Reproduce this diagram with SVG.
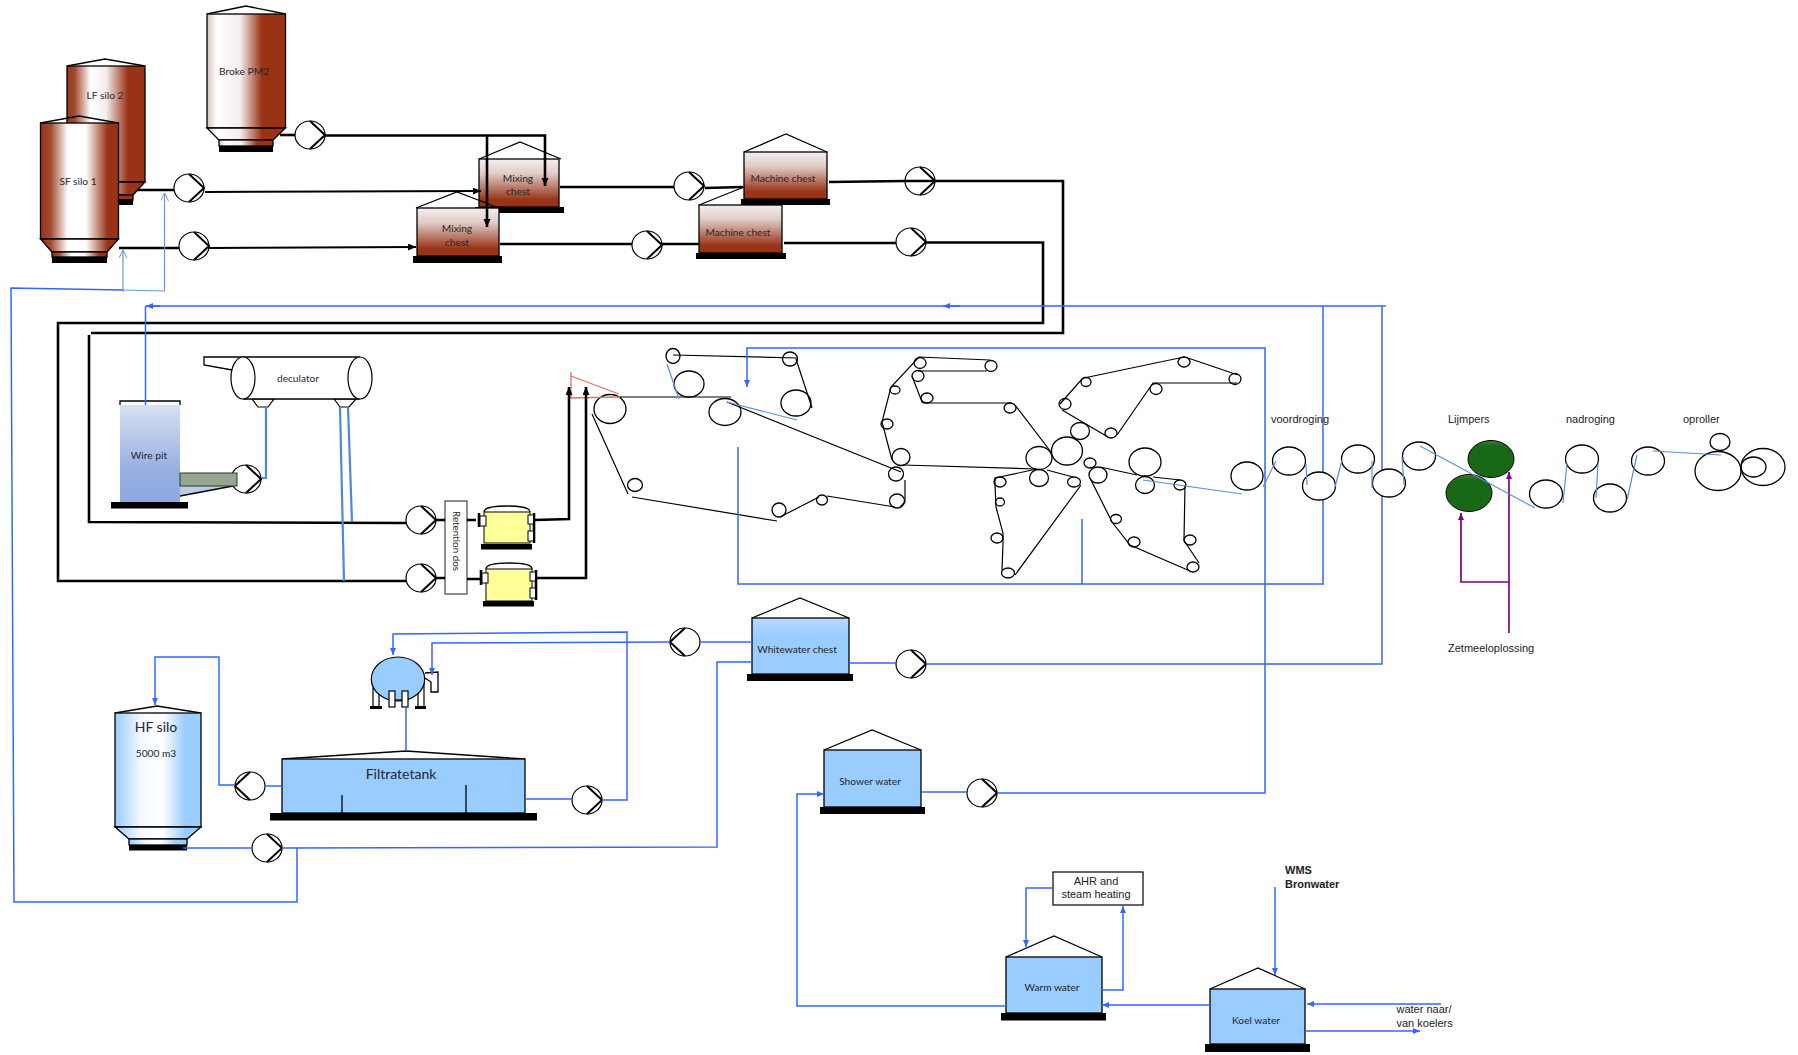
<svg xmlns="http://www.w3.org/2000/svg" width="1798" height="1055" viewBox="0 0 1798 1055">
<style>
text{font-family:"Lato","Open Sans","Liberation Sans",sans-serif;font-size:10.2px;fill:#26262e;text-anchor:middle}
.a{font-family:"Liberation Sans",Arial,sans-serif;font-size:11px;fill:#222}
.s{text-anchor:start}
.o{fill:none;stroke:#000;stroke-width:1.3;stroke-linejoin:miter}
.ln{stroke:#000;stroke-width:1.3}
.base{fill:#000;stroke:none}
.bk{fill:none;stroke:#000;stroke-width:2.6}
.bl{fill:none;stroke:#3366ff;stroke-width:1.5}
.lb{fill:none;stroke:#6a96dc;stroke-width:1.2}
.pp{fill:none;stroke:#4a8ade;stroke-width:2.2}
.pu{fill:none;stroke:#800080;stroke-width:1.7}
.red{fill:none;stroke:#d9736f;stroke-width:1.3}
.belt{fill:none;stroke:#000;stroke-width:1.2}
.web{fill:none;stroke:#5b8ed6;stroke-width:1.2}
.roll{fill:none;stroke:#000;stroke-width:1.3}
.rollw{fill:#fff;stroke:#000;stroke-width:1.3}
.green{fill:url(#gGreen);stroke:#000;stroke-width:1}
.y{fill:#ffff99;stroke:#000;stroke-width:1}
.nz{fill:#fff;stroke:#000;stroke-width:1}
.w{fill:#fff;stroke:#000;stroke-width:1.2}
</style>
<defs>
<linearGradient id="gLF"><stop offset="0" stop-color="#993316"/><stop offset=".1" stop-color="#a04a30"/><stop offset=".3" stop-color="#fff"/><stop offset=".5" stop-color="#f4eeee"/><stop offset=".78" stop-color="#993316"/><stop offset="1" stop-color="#993316"/></linearGradient>
<linearGradient id="gBroke"><stop offset="0" stop-color="#d8c0bc"/><stop offset=".12" stop-color="#fff"/><stop offset=".42" stop-color="#f6eeee"/><stop offset=".7" stop-color="#993316"/><stop offset="1" stop-color="#993316"/></linearGradient>
<linearGradient id="gSF"><stop offset="0" stop-color="#993316"/><stop offset=".13" stop-color="#a04a30"/><stop offset=".35" stop-color="#fff"/><stop offset=".58" stop-color="#fff"/><stop offset=".86" stop-color="#993316"/><stop offset="1" stop-color="#993316"/></linearGradient>
<linearGradient id="gChest" x2="0" y2="1"><stop offset="0" stop-color="#f4eeee"/><stop offset=".3" stop-color="#e0cdc8"/><stop offset=".85" stop-color="#993316"/><stop offset="1" stop-color="#993316"/></linearGradient>
<linearGradient id="gHF"><stop offset="0" stop-color="#99ccff"/><stop offset=".3" stop-color="#f4f9ff"/><stop offset=".55" stop-color="#fff"/><stop offset=".82" stop-color="#99ccff"/><stop offset="1" stop-color="#99ccff"/></linearGradient>
<linearGradient id="gPit" x2="0" y2="1"><stop offset="0" stop-color="#d8e0f2"/><stop offset=".7" stop-color="#94aee0"/><stop offset="1" stop-color="#8eaadf"/></linearGradient>
<linearGradient id="gWW" x2="0" y2="1"><stop offset="0" stop-color="#b8d9ff"/><stop offset=".35" stop-color="#99ccff"/></linearGradient>
<linearGradient id="gGreen" x2="0" y2="1"><stop offset="0" stop-color="#3d7d38"/><stop offset=".15" stop-color="#186815"/><stop offset="1" stop-color="#186815"/></linearGradient>
<g id="pump"><ellipse rx="15" ry="14" fill="#fff" stroke="#000" stroke-width="1.2"/><polyline points="0,-14 15,0 0,14" fill="none" stroke="#000" stroke-width="2"/></g>
<g id="pumpL"><ellipse rx="15" ry="14" fill="#fff" stroke="#000" stroke-width="1.2"/><polyline points="0,-14 -15,0 0,14" fill="none" stroke="#000" stroke-width="2"/></g>
<marker id="aK" markerUnits="userSpaceOnUse" markerWidth="9" markerHeight="9" refX="8" refY="3.5" orient="auto"><path d="M0,0L8,3.5L0,7Z" fill="#000"/></marker>
<marker id="aB" markerUnits="userSpaceOnUse" markerWidth="9" markerHeight="9" refX="7" refY="3" orient="auto"><path d="M0,0L7,3L0,6Z" fill="#3366ff"/></marker>
<marker id="aP" markerUnits="userSpaceOnUse" markerWidth="9" markerHeight="9" refX="7" refY="3" orient="auto"><path d="M0,0L7,3L0,6Z" fill="#800080"/></marker>
<marker id="aO" markerUnits="userSpaceOnUse" markerWidth="10" markerHeight="10" refX="8" refY="4" orient="auto"><path d="M0,0L8,4L0,8" fill="none" stroke="#6a96dc" stroke-width="1"/></marker>
</defs>
<rect width="1798" height="1055" fill="#fff"/>

<g id="silo-lf2">
<polyline class="o" points="67,66 105,59 145,66"/>
<rect x="67" y="66" width="78" height="116" fill="url(#gLF)" class="ln"/>
<polygon points="67,182 145,182 133,195 80,195" fill="url(#gLF)" class="ln"/>
<rect x="80" y="195" width="53" height="5" fill="#993316" class="ln"/>
<rect class="base" x="80" y="199" width="53" height="6"/>
<text x="105" y="99">LF silo 2</text>
</g>
<g id="silo-sf1">
<polyline class="o" points="40.5,123 79,116 118.5,123"/>
<rect x="40.5" y="123" width="78" height="116" fill="url(#gSF)" class="ln"/>
<polygon points="40.5,239 118.5,239 107,252 52,252" fill="url(#gSF)" class="ln"/>
<rect x="52" y="252" width="55" height="5" fill="url(#gSF)" class="ln"/>
<rect class="base" x="52" y="257" width="55" height="6"/>
<text x="78" y="185">SF silo 1</text>
</g>
<g id="silo-broke">
<polyline class="o" points="207,14 246,6 285.5,14"/>
<rect x="207" y="14" width="78.5" height="114" fill="url(#gBroke)" class="ln"/>
<polygon points="207,128 285.5,128 273,140 219,140" fill="url(#gBroke)" class="ln"/>
<rect x="219" y="140" width="54" height="6" fill="url(#gBroke)" class="ln"/>
<rect class="base" x="219" y="146" width="54" height="6"/>
<text x="244" y="75">Broke PM2</text>
</g>
<g id="mixing-chest-1">
<polyline class="o" points="479,159 520,142 561,159"/>
<rect x="479" y="159" width="80" height="48" fill="url(#gChest)" class="ln"/>
<rect class="base" x="475" y="207" width="89" height="6"/>
<text x="518" y="182">Mixing</text><text x="518" y="195">chest</text>
</g>
<g id="mixing-chest-2">
<rect x="417" y="208" width="82" height="48" fill="url(#gChest)" class="ln"/>
<polyline class="o" points="416,208 457,192 499,208"/>
<rect class="base" x="413" y="256" width="89" height="7"/>
<text x="457" y="232">Mixing</text><text x="457" y="246">chest</text>
</g>
<g id="machine-chest-2">
<polyline class="o" points="699,205 744,187"/>
<rect x="699" y="205" width="83" height="48" fill="url(#gChest)" class="ln"/>
<rect class="base" x="696" y="253" width="90" height="6"/>
<text x="738" y="236">Machine chest</text>
</g>
<g id="machine-chest-1">
<polyline class="o" points="744,152 786,134 827,152"/>
<rect x="744" y="152" width="83" height="47" fill="url(#gChest)" class="ln"/>
<rect class="base" x="741" y="199" width="89" height="6"/>
<text x="783" y="182">Machine chest</text>
</g>

<g id="pump-broke"><use href="#pump" x="310" y="135"/></g>
<g id="pump-lf"><use href="#pump" x="189" y="188"/></g>
<g id="pump-sf"><use href="#pump" x="194" y="246"/></g>
<g id="pump-mix1"><use href="#pump" x="689" y="186"/></g>
<g id="pump-mix2"><use href="#pump" x="647" y="245"/></g>
<g id="pump-mach2"><use href="#pump" x="911" y="242"/></g>
<g id="pump-ret1"><use href="#pump" x="421" y="520"/></g>
<g id="pump-ret2"><use href="#pump" x="421" y="578"/></g>
<g id="pump-ww-in"><use href="#pumpL" x="685" y="642"/></g>
<g id="pump-ww-out"><use href="#pump" x="911" y="664"/></g>
<g id="pump-shower"><use href="#pump" x="982" y="793"/></g>
<g id="pump-hf-in"><use href="#pumpL" x="250" y="786"/></g>
<g id="pump-hf-out"><use href="#pump" x="267" y="848"/></g>
<g id="pump-filtrate"><use href="#pump" x="587" y="800"/></g>

<g id="wire-pit">
<polyline class="o" points="120,405 120,401 180,401 180,405"/>
<rect x="120" y="405" width="60" height="97" fill="url(#gPit)"/>
<rect class="base" x="111" y="502" width="77" height="6.5"/>
<text x="149" y="459">Wire pit</text>
</g>
<g id="pump-wire">
<use href="#pump" x="246" y="479"/>
<polygon points="180,486 233,486 180,496" fill="#b8cce4"/>
<line class="ln" x1="180" y1="496" x2="233" y2="486"/>
<rect x="180" y="473" width="57" height="13" fill="#93a88f" stroke="#333" stroke-width="1"/>
</g>
<g id="deculator">
<polygon class="w" points="252,399 258,407 268,407 274,399"/>
<polygon class="w" points="334,399 340,407 349,407 356,399"/>
<rect x="243" y="357" width="117" height="42" fill="#fff"/>
<polyline class="o" points="243,357 204,357 204,365 232,370"/>
<line class="ln" x1="243" y1="357" x2="360" y2="357"/>
<line class="ln" x1="243" y1="399" x2="360" y2="399"/>
<ellipse class="w" cx="243" cy="378" rx="12" ry="21"/>
<ellipse class="w" cx="360" cy="378" rx="12" ry="21"/>
<text x="298" y="382">deculator</text>
</g>
<g id="retention-dos">
<rect x="445" y="501" width="22" height="93" fill="#fff" stroke="#444" stroke-width="1.2"/>
<text transform="translate(453,541) rotate(90)" style="font-size:9.8px">Retention dos</text>
</g>
<g id="vessel-1">
<path d="M484,512Q484,506 507,506Q530,506 530,512" class="o"/>
<rect class="y" x="484" y="512" width="46" height="31"/>
<rect class="base" x="481" y="544" width="51" height="5.5"/>
<line class="bk" x1="479" y1="513" x2="479" y2="527"/><rect class="nz" x="480" y="516" width="6" height="10"/>
<line class="bk" x1="534" y1="513" x2="534" y2="543"/><rect class="nz" x="528" y="515" width="5.5" height="9"/><rect class="nz" x="528" y="531" width="5.5" height="10"/>
</g>
<g id="vessel-2">
<path d="M486,569Q486,563 509,563Q532,563 532,569" class="o"/>
<rect class="y" x="486" y="569" width="46" height="32"/>
<rect class="base" x="483" y="601" width="51" height="5.5"/>
<line class="bk" x1="481" y1="570" x2="481" y2="585"/><rect class="nz" x="482" y="573" width="6" height="10"/>
<line class="bk" x1="536" y1="570" x2="536" y2="600"/><rect class="nz" x="530" y="572" width="5.5" height="9"/><rect class="nz" x="530" y="588" width="5.5" height="10"/>
</g>

<g id="hf-silo">
<polyline class="o" points="115,713 157,706 201,713"/>
<rect x="115" y="713" width="86" height="114" fill="url(#gHF)" class="ln"/>
<polygon points="115,827 201,827 187,839 129,839" fill="url(#gHF)" class="ln"/>
<rect x="129" y="839" width="58" height="6" fill="url(#gHF)" class="ln"/>
<rect class="base" x="129" y="845" width="58" height="5.5"/>
<text x="156" y="732" style="font-size:14px">HF silo</text>
<text x="156" y="757">5000 m3</text>
</g>
<g id="filtrate-tank">
<polyline class="o" points="282,759 406,751 525,759"/>
<rect x="282" y="759" width="243" height="54" fill="#99ccff" class="ln"/>
<line class="ln" x1="342" y1="795" x2="342" y2="813"/><line class="ln" x1="466" y1="785" x2="466" y2="813"/>
<rect class="base" x="270" y="813" width="267" height="7.5"/>
<text x="401" y="779" style="font-size:14px">Filtratetank</text>
</g>
<g id="filter">
<rect class="w" x="373" y="688" width="6" height="19"/>
<rect class="base" x="370" y="706" width="12" height="3"/>
<rect class="w" x="418" y="677" width="6" height="30"/>
<rect class="base" x="415" y="706" width="11" height="3"/>
<polyline class="o" points="425,673 438,672 438,692 431,692 431,682 425,678"/>
<ellipse cx="398" cy="679" rx="26.7" ry="22" fill="#99ccff" stroke="#000" stroke-width="1.2"/>
<line class="ln" x1="395" y1="700" x2="402" y2="700"/>
<rect class="w" x="389" y="691" width="6" height="16"/>
<rect class="w" x="402" y="691" width="6" height="16"/>
</g>
<g id="whitewater-chest">
<polyline class="o" points="752,618 800,598 849,618"/>
<rect x="752" y="618" width="97" height="56" fill="url(#gWW)" class="ln"/>
<rect class="base" x="747" y="674" width="106" height="7"/>
<text x="797" y="653">Whitewater chest</text>
</g>
<g id="shower-water">
<polyline class="o" points="824,750 872,730 921,750"/>
<rect x="824" y="750" width="97" height="57" fill="#99ccff" class="ln"/>
<rect class="base" x="820" y="807" width="105" height="7"/>
<text x="870" y="785">Shower water</text>
</g>
<g id="warm-water">
<polyline class="o" points="1006,957 1054,936 1102,957"/>
<rect x="1006" y="957" width="96" height="56" fill="#99ccff" class="ln"/>
<rect class="base" x="1001" y="1013" width="105" height="7.5"/>
<text x="1052" y="991">Warm water</text>
</g>
<g id="koel-water">
<polyline class="o" points="1210,989 1258,968 1305,989"/>
<rect x="1210" y="989" width="95" height="55" fill="#99ccff" class="ln"/>
<rect class="base" x="1205" y="1044" width="105" height="8"/>
<text x="1256" y="1024">Koel water</text>
</g>
<g id="ahr">
<rect x="1053" y="872" width="90" height="33" fill="#fff" stroke="#000" stroke-width="1.2"/>
<text class="a" x="1096" y="885">AHR and</text><text class="a" x="1096" y="898">steam heating</text>
</g>

<g id="paper-machine">
<g class="rolls">
<ellipse class="roll" cx="673" cy="356" rx="7" ry="7.5"/><ellipse class="roll" cx="689" cy="384" rx="15" ry="13"/><ellipse class="roll" cx="610" cy="409" rx="16" ry="14.5"/><ellipse class="roll" cx="725" cy="412" rx="16" ry="13.5"/><ellipse class="roll" cx="790" cy="359" rx="7.5" ry="7"/><ellipse class="roll" cx="796" cy="403" rx="15" ry="13"/><ellipse class="roll" cx="635" cy="485" rx="7.5" ry="6.5"/><ellipse class="roll" cx="779" cy="510" rx="7" ry="7"/><ellipse class="roll" cx="822" cy="500" rx="5.5" ry="5"/><ellipse class="roll" cx="897" cy="501" rx="7.5" ry="7"/><ellipse class="roll" cx="896" cy="474" rx="7.5" ry="7"/><ellipse class="roll" cx="901" cy="457" rx="9" ry="8.5"/><ellipse class="roll" cx="887" cy="424" rx="6" ry="5"/><ellipse class="roll" cx="895" cy="390" rx="5" ry="4"/><ellipse class="roll" cx="918" cy="376" rx="6" ry="5.5"/><ellipse class="roll" cx="920" cy="363" rx="6" ry="5.5"/><ellipse class="roll" cx="927" cy="398" rx="6" ry="5"/><ellipse class="roll" cx="991" cy="366" rx="6" ry="5.5"/><ellipse class="roll" cx="1010" cy="408" rx="6" ry="5"/><ellipse class="roll" cx="1039" cy="458" rx="13" ry="11.5"/><ellipse class="roll" cx="1067" cy="451" rx="15.5" ry="14"/><ellipse class="roll" cx="1080" cy="431" rx="9.5" ry="8.5"/><ellipse class="roll" cx="1039" cy="478" rx="9.5" ry="8.5"/><ellipse class="roll" cx="1000" cy="482" rx="6" ry="5"/><ellipse class="roll" cx="1000" cy="502" rx="4.5" ry="4"/><ellipse class="roll" cx="997" cy="538" rx="6" ry="5"/><ellipse class="roll" cx="1008" cy="573" rx="6.5" ry="5"/><ellipse class="roll" cx="1074" cy="482" rx="6.5" ry="5"/><ellipse class="roll" cx="1086" cy="382" rx="5" ry="4.5"/><ellipse class="roll" cx="1065" cy="404" rx="6" ry="5.5"/><ellipse class="roll" cx="1111" cy="433" rx="6" ry="5"/><ellipse class="roll" cx="1156" cy="389" rx="6" ry="5.5"/><ellipse class="roll" cx="1184" cy="362" rx="6" ry="5"/><ellipse class="roll" cx="1235" cy="379" rx="6" ry="5.5"/><ellipse class="roll" cx="1090" cy="463" rx="6" ry="5"/><ellipse class="roll" cx="1098" cy="475" rx="9" ry="8"/><ellipse class="roll" cx="1145" cy="462" rx="16" ry="14"/><ellipse class="roll" cx="1145" cy="485" rx="9.5" ry="8.5"/><ellipse class="roll" cx="1180" cy="485" rx="6" ry="5"/><ellipse class="roll" cx="1190" cy="540" rx="6" ry="5"/><ellipse class="roll" cx="1116" cy="519" rx="5.5" ry="4.5"/><ellipse class="roll" cx="1134" cy="542" rx="6" ry="5"/><ellipse class="roll" cx="1193" cy="567" rx="6" ry="5"/><ellipse class="roll" cx="1247" cy="476" rx="16" ry="14"/>
<ellipse class="roll" cx="1289" cy="461" rx="16.5" ry="14"/><ellipse class="roll" cx="1358" cy="459" rx="16.5" ry="14"/><ellipse class="roll" cx="1419" cy="456" rx="16.5" ry="14"/><ellipse class="roll" cx="1546" cy="494" rx="16.5" ry="14"/><ellipse class="roll" cx="1582" cy="459" rx="16.5" ry="14"/><ellipse class="roll" cx="1610" cy="498" rx="16.5" ry="14"/><ellipse class="roll" cx="1648" cy="461" rx="16.5" ry="14"/><ellipse class="roll" cx="1720" cy="442" rx="10" ry="8.5"/><ellipse class="roll" cx="1718" cy="471" rx="23" ry="19.5"/><ellipse class="roll" cx="1763" cy="467" rx="22" ry="18.5"/><ellipse class="roll" cx="1753.5" cy="467" rx="12.5" ry="10"/>
</g>
<ellipse class="green" cx="1491" cy="459" rx="23" ry="18.5"/><ellipse class="green" cx="1469" cy="493" rx="23" ry="18.5"/>
<g class="belts">
<path class="belt" d="M673,355L798,358M796,359L812,408M620,397H731M592,414L628,494M632,497L777,521M780,517L819,497M827,496L895,507M905,480V502L900,507M727,402L901,472M903,465L1037,469"/>
<path class="belt" d="M990,360L919,357L891,387L882,422L892,460M918,371H987M912,376L922,402L923,403H1012M1015,405L1051,452"/>
<path class="belt" d="M1060,404L1082,379L1084,378L1184,357L1188,358L1238,375M1237,383H1153L1117,435M1108,437L1062,410"/>
<path class="belt" d="M1037,469L995,478V485L996,507L1003,533V543L1002,570M1015,575L1081,485M1073,477L1047,470"/>
<path class="belt" d="M1090,478L1112,522L1130,545L1190,571M1199,563L1185,542L1184,540L1185,485M1180,480L1153,477M1137,475L1100,467"/>
</g>
<path class="red" d="M571,372V398M571,376L619,394M569,398L620,397"/>
</g>

<g id="connectors">
<path class="bk" d="M280,135H295"/>
<path class="bk" d="M325,135.500H545V186" marker-end="url(#aK)"/>
<path class="bk" d="M487,136V227" marker-end="url(#aK)"/>
<path class="bk" d="M137,190H174"/>
<path class="belt" style="stroke-width:2" d="M205,192L481,191" marker-end="url(#aK)"/>
<path class="bk" d="M119,248H179"/>
<path class="belt" style="stroke-width:2" d="M209,248L416,247" marker-end="url(#aK)"/>
<path class="bk" style="stroke-width:2.3" d="M560,187H674"/>
<path class="bk" d="M705,188L743,187"/>
<path class="bk" style="stroke-width:2.3" d="M500,244H632"/>
<path class="bk" style="stroke-width:2.3" d="M662,244H699"/>
<path class="bk" d="M829,182L905,181"/>
<path class="bk" style="stroke-width:2.3" d="M784,243H896"/>
<path class="bk" d="M926,242.500H1043V323H58V581H406"/>
<path class="bk" d="M905,181H1063V333H91M89,335V522L406,523"/>
<path class="bk" d="M436,520H445M467,520H476M436,578H445M467,579H481"/>
<path class="bk" d="M535,520L569,519V387" marker-end="url(#aK)"/>
<path class="bk" d="M537,578H586V387" marker-end="url(#aK)"/>
<path class="bl" d="M1386,306H146" />
<path class="bl" d="M960,306H943" marker-end="url(#aB)"/>
<path class="bl" d="M160,306H146" marker-end="url(#aB)"/>
<path class="bl" d="M145.500,306V405"/>
<path class="bl" d="M1323,306V584H738V447"/>
<path class="bl" d="M1082,519V584"/>
<path class="bl" d="M1382,306V664H926"/>
<path class="bl" d="M849,663H896"/>
<path class="bl" d="M997,793H1265V348H747V387" marker-end="url(#aB)"/>
<path class="bl" d="M921,792H967"/>
<path class="bl" d="M752,642H700"/>
<path class="bl" d="M670,642L432,643V675" marker-end="url(#aB)"/>
<path class="bl" d="M602,800H627V632L393,634V655" marker-end="url(#aB)"/>
<path class="bl" d="M526,799H572"/>
<path class="bl" d="M406,707V751"/>
<path class="bl" d="M265,786H282"/>
<path class="bl" d="M235,785H219V657H155V705" marker-end="url(#aB)"/>
<path class="bl" d="M183,848H252"/>
<path class="bl" d="M282,848L717,847V662H752"/>
<path class="bl" d="M297,848V902H14L11,288L123,290"/>
<path class="lb" d="M123,290L164.500,291"/>
<path class="lb" d="M123,292V250" marker-end="url(#aO)"/>
<path class="lb" d="M164.500,291V193" marker-end="url(#aO)"/>
<path class="pp" d="M262,478H266V407"/>
<path class="pp" d="M340,407L344,581"/>
<path class="pp" d="M348,407L352,522"/>
<path class="bl" d="M1053,888H1026V947" marker-end="url(#aB)"/>
<path class="bl" d="M1102,990H1123V906" marker-end="url(#aB)"/>
<path class="bl" d="M1210,1005H1102" marker-end="url(#aB)"/>
<path class="bl" d="M1006,1006H797V794H824" marker-end="url(#aB)"/>
<path class="bl" d="M1275,887V975" marker-end="url(#aB)"/>
<path class="bl" d="M1441,1004H1307" marker-end="url(#aB)"/>
<path class="bl" d="M1305,1031H1420" marker-end="url(#aB)"/>
<path class="pu" d="M1509,633V472" marker-end="url(#aP)"/>
<path class="pu" d="M1509,582H1461V513" marker-end="url(#aP)"/>
</g>
<g id="dryer-rolls"><ellipse class="rollw" cx="1319" cy="486" rx="16.5" ry="14"/><ellipse class="rollw" cx="1389" cy="483" rx="16.5" ry="14"/></g>
<path id="web" class="web" d="M667,364L679,399M727,402L797,420M1143,480L1242,494M1263,487L1276,461M1306,464L1307,485M1335,487L1342,460M1372,461V488M1404,485L1402,457M1420,446L1535,508M1563,503L1567,463M1598,464L1596,498M1627,500L1637,455M1653,451L1721,455"/>
<g id="pump-mach1"><ellipse cx="920" cy="181" rx="15" ry="14" fill="none" stroke="#000" stroke-width="1.200"/><polyline points="920,167 935,181 920,195" fill="none" stroke="#000" stroke-width="2"/></g>

<g id="labels">
<text class="a s" x="1271" y="423">voordroging</text>
<text class="a s" x="1448" y="423">Lijmpers</text>
<text class="a s" x="1566" y="423">nadroging</text>
<text class="a s" x="1683" y="423">oproller</text>
<text class="a s" x="1448" y="652">Zetmeeloplossing</text>
<text class="a s" x="1285" y="874" style="font-weight:bold">WMS</text>
<text class="a s" x="1285" y="888" style="font-weight:bold">Bronwater</text>
<text class="a s" x="1396.500" y="1013">water naar/</text>
<text class="a s" x="1396.500" y="1027">van koelers</text>
</g>
</svg>
